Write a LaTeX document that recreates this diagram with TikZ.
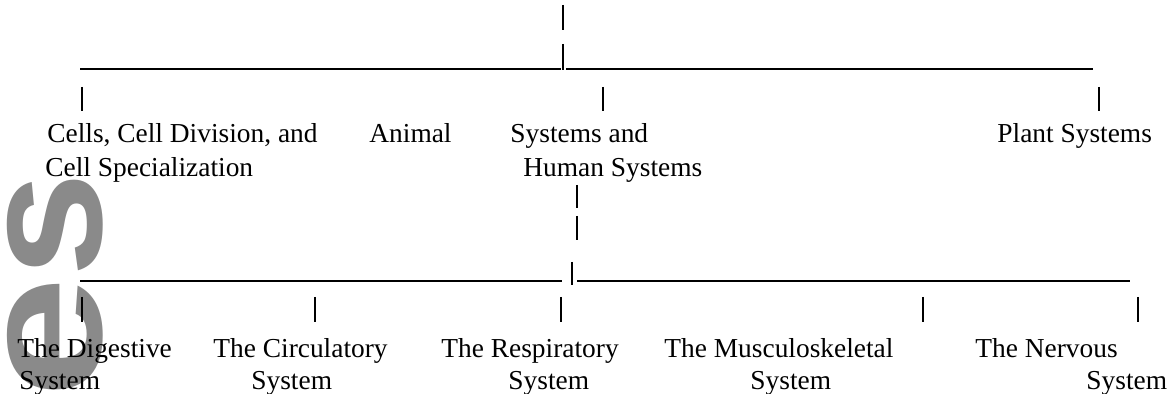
\documentclass[tikz,border=0pt]{standalone}
\usepackage{fontspec}
\setmainfont{Liberation Serif}
\newfontfamily\wmfont{Liberation Sans}
\begin{document}
\begin{tikzpicture}[x=0.5pt,y=-0.5pt,
  lbl/.style={anchor=base west, inner sep=0pt, font=\fontsize{13.7}{16}\selectfont},
  bar/.style={line width=0.7pt, black},
  rulebar/.style={line width=0.7pt, black},
  wmark/.style={rotate=90, anchor=base west, inner sep=0pt, text=black!46,
    font=\wmfont\bfseries\fontsize{87.5}{90}\selectfont}]
\useasboundingbox (0,0) rectangle (1171,394);
\begin{scope}
\clip (0,0) rectangle (1171,394);
\node[wmark] (wme) at (101,399) {\scalebox{1.25}[1]{e}};
\node[wmark] (wms) at (101,278) {\scalebox{1.08}[1]{s}};
\end{scope}
% top connectors
\coordinate (p0a) at (563,5);   \coordinate (p0b) at (563,30);
\coordinate (p1a) at (563,44);  \coordinate (p1b) at (563,70);
\coordinate (u1a) at (80,69);   \coordinate (u1b) at (561,69);
\coordinate (u2a) at (566,69);  \coordinate (u2b) at (1093,69);
\draw[bar] (p0a) -- (p0b);
\draw[bar] (p1a) -- (p1b);
\draw[rulebar] (u1a) -- (u1b);
\draw[rulebar] (u2a) -- (u2b);
\coordinate (q1a) at (82,87);   \coordinate (q1b) at (82,111);
\coordinate (q2a) at (603,87);  \coordinate (q2b) at (603,111);
\coordinate (q3a) at (1099,87); \coordinate (q3b) at (1099,111);
\draw[bar] (q1a) -- (q1b);
\draw[bar] (q2a) -- (q2b);
\draw[bar] (q3a) -- (q3b);
% top labels
\node[lbl] (cells1) at (47,143) {Cells, Cell Division, and};
\node[lbl] (cells2) at (45,177) {Cell Specialization};
\node[lbl] (animal) at (369,143) {Animal};
\node[lbl] (sys1) at (510,143) {Systems and};
\node[lbl] (sys2) at (523,177) {Human Systems};
\node[lbl] (plant) at (997,143) {Plant Systems};
% middle connectors
\coordinate (m1a) at (577,185); \coordinate (m1b) at (577,208);
\coordinate (m2a) at (577,216); \coordinate (m2b) at (577,240);
\coordinate (m3a) at (572,262); \coordinate (m3b) at (572,285);
\coordinate (v1a) at (80,281);  \coordinate (v1b) at (562,281);
\coordinate (v2a) at (577,281); \coordinate (v2b) at (1130,281);
\draw[bar] (m1a) -- (m1b);
\draw[bar] (m2a) -- (m2b);
\draw[bar] (m3a) -- (m3b);
\draw[rulebar] (v1a) -- (v1b);
\draw[rulebar] (v2a) -- (v2b);
\foreach \x/\n in {82/a,315/b,561/c,923/d,1138/e}{
  \coordinate (r\n a) at (\x,297); \coordinate (r\n b) at (\x,322);
  \draw[bar] (r\n a) -- (r\n b);
}
% bottom labels
\node[lbl] (dig1) at (17,358) {The Digestive};
\node[lbl] (dig2) at (19,390) {System};
\node[lbl] (cir1) at (213,358) {The Circulatory};
\node[lbl] (cir2) at (251,390) {System};
\node[lbl] (res1) at (441,358) {The Respiratory};
\node[lbl] (res2) at (508,390) {System};
\node[lbl] (mus1) at (664,358) {The Musculoskeletal};
\node[lbl] (mus2) at (750,390) {System};
\node[lbl] (ner1) at (975,358) {The Nervous};
\node[lbl] (ner2) at (1086,390) {System};
\end{tikzpicture}
\end{document}
